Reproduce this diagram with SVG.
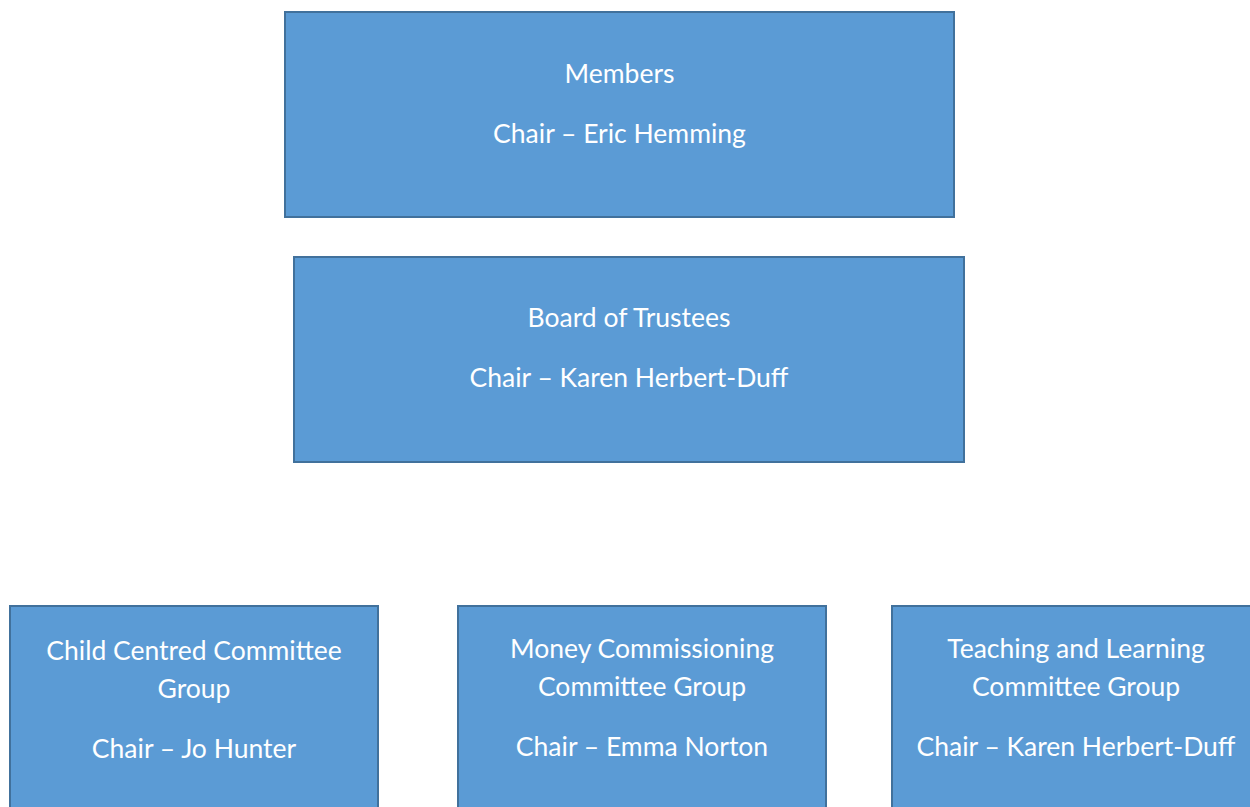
<svg xmlns="http://www.w3.org/2000/svg" width="1250" height="807" viewBox="0 0 1250 807">
<style>
.box{fill:#5B9BD5;stroke:#41719C;stroke-width:2}
.t{fill:#ffffff;font-family:Lato,"Open Sans","Liberation Sans",sans-serif;font-size:26.5px;text-anchor:middle}
</style>
<rect width="1250" height="807" fill="#ffffff"/>
<g id="connectors"></g>
<g id="members">
<rect class="box" x="285" y="12" width="669" height="205"/>
<text class="t" x="619.5" y="83">Members</text>
<text class="t" x="619.5" y="143">Chair – Eric Hemming</text>
</g>
<g id="board">
<rect class="box" x="294" y="257" width="670" height="205"/>
<text class="t" x="629" y="327">Board of Trustees</text>
<text class="t" x="629" y="387">Chair – Karen Herbert-Duff</text>
</g>
<g id="child">
<rect class="box" x="10" y="606" width="368" height="220"/>
<text class="t" x="194" y="660">Child Centred Committee</text>
<text class="t" x="194" y="698">Group</text>
<text class="t" x="194" y="758">Chair – Jo Hunter</text>
</g>
<g id="money">
<rect class="box" x="458" y="606" width="368" height="220"/>
<text class="t" x="642" y="658">Money Commissioning</text>
<text class="t" x="642" y="696">Committee Group</text>
<text class="t" x="642" y="756">Chair – Emma Norton</text>
</g>
<g id="teaching">
<rect class="box" x="892" y="606" width="368" height="220"/>
<text class="t" x="1076" y="658">Teaching and Learning</text>
<text class="t" x="1076" y="696">Committee Group</text>
<text class="t" x="1076" y="756">Chair – Karen Herbert-Duff</text>
</g>
</svg>
